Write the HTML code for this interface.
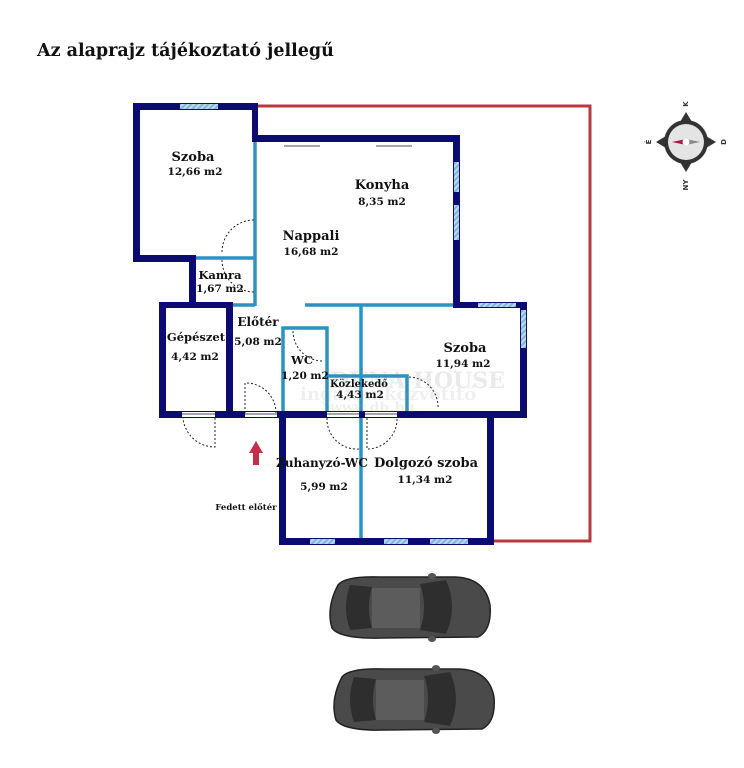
<!DOCTYPE html>
<html><head><meta charset="utf-8"><style>
html,body{margin:0;padding:0;background:#fff;width:744px;height:768px;overflow:hidden}
svg{display:block}
text{font-family:"DejaVu Serif","Liberation Serif",serif;font-weight:bold;fill:#111}
</style></head><body>
<svg width="744" height="768" viewBox="0 0 744 768" xmlns="http://www.w3.org/2000/svg">
<defs>
<pattern id="h" width="4" height="4" patternUnits="userSpaceOnUse" patternTransform="rotate(45)">
<rect width="4" height="4" fill="#bcd8ea"/><rect width="2" height="4" fill="#7fb6d8"/></pattern>
</defs>
<text x="37" y="56" font-size="17.5">Az alaprajz tájékoztató jellegű</text>

<polyline points="258,106 590,106 590,541 494,541" fill="none" stroke="#b83a3f" stroke-width="3"/>

<g stroke="#2a93c4" stroke-width="3.5" fill="none">
<line x1="255" y1="140" x2="255" y2="306"/>
<line x1="196" y1="258" x2="255" y2="258"/>
<line x1="232" y1="305" x2="255" y2="305"/>
<line x1="305" y1="305" x2="455" y2="305"/>
<line x1="361" y1="305" x2="361" y2="542"/>
<polyline points="283,413 283,328 327,328 327,413"/>
<polyline points="325,376 407,376 407,413"/>
</g>

<g fill="#0b0b72">
<rect x="133" y="103" width="125" height="7"/>
<rect x="133" y="103" width="7" height="159"/>
<rect x="252" y="103" width="6" height="39"/>
<rect x="252" y="135" width="208" height="7"/>
<rect x="453" y="135" width="7" height="173"/>
<rect x="453" y="302" width="74" height="6"/>
<rect x="520" y="302" width="7" height="116"/>
<rect x="159" y="411" width="368" height="7"/>
<rect x="159" y="302" width="7" height="116"/>
<rect x="159" y="302" width="74" height="6"/>
<rect x="226" y="302" width="7" height="116"/>
<rect x="133" y="255" width="63" height="7"/>
<rect x="189" y="255" width="7" height="52"/>
<rect x="279" y="411" width="7" height="134"/>
<rect x="487" y="411" width="7" height="134"/>
<rect x="279" y="538" width="215" height="7"/>
</g>
<g fill="url(#h)">
<rect x="180" y="104" width="38" height="5"/>
<rect x="454" y="162" width="5" height="30"/>
<rect x="454" y="205" width="5" height="35"/>
<rect x="478" y="303" width="38" height="4"/>
<rect x="521" y="310" width="5" height="38"/>
<rect x="310" y="539" width="25" height="5"/>
<rect x="384" y="539" width="24" height="5"/>
<rect x="430" y="539" width="38" height="5"/>
</g>
<g fill="#fff">
<rect x="182" y="412" width="33" height="5"/>
<rect x="245" y="412" width="32" height="5"/>
<rect x="327" y="412" width="32" height="5"/>
<rect x="365" y="412" width="32" height="5"/>
</g>
<g stroke="#888" stroke-width="1.5">
<line x1="182" y1="414" x2="215" y2="414"/><line x1="245" y1="414" x2="277" y2="414"/>
<line x1="327" y1="414" x2="359" y2="414"/><line x1="365" y1="414" x2="397" y2="414"/>
<line x1="284" y1="146" x2="320" y2="146"/><line x1="376" y1="146" x2="412" y2="146"/>
</g>
<g fill="none" stroke="#222" stroke-width="1" stroke-dasharray="2,2">
<path d="M222,252 A32,32 0 0 1 254,220"/>
<path d="M222,260 A32,32 0 0 0 254,292"/>
<path d="M215,418 L215,447 A32,32 0 0 1 183,418"/>
<path d="M245,413 L245,383 A30,30 0 0 1 276,413"/>
<path d="M293,331 A30,30 0 0 0 323,361"/>
<path d="M327,418 A30,30 0 0 0 359,449"/>
<path d="M367,418 L367,449 A30,30 0 0 0 397,418"/>
<path d="M409,377 A30,30 0 0 1 438,408"/>
</g>
<path d="M256,441 L249,453 L253,453 L253,465 L259,465 L259,453 L263,453 Z" fill="#c0304a"/>

<g opacity="0.15">
<text x="330" y="388" font-size="22" style="fill:#777">DUNA HOUSE</text>
<text x="300" y="400" font-size="18" style="fill:#999">ingatlanközvetítő</text>
<text x="330" y="412" font-size="14" style="fill:#999">www.dh.hu</text>
</g>

<g text-anchor="middle">
<text x="193" y="161" font-size="13">Szoba</text>
<text x="195" y="175" font-size="10.5">12,66 m2</text>
<text x="382" y="189" font-size="13">Konyha</text>
<text x="382" y="205" font-size="10.5">8,35 m2</text>
<text x="311" y="240" font-size="13">Nappali</text>
<text x="311" y="255" font-size="10.5">16,68 m2</text>
<text x="220" y="279" font-size="11.5">Kamra</text>
<text x="220" y="292" font-size="10.5">1,67 m2</text>
<text x="258" y="326" font-size="12">Előtér</text>
<text x="258" y="345" font-size="10.5">5,08 m2</text>
<text x="196" y="341" font-size="11.5">Gépészet</text>
<text x="195" y="360" font-size="10.5">4,42 m2</text>
<text x="302" y="364" font-size="11.5">WC</text>
<text x="305" y="379" font-size="10.5">1,20 m2</text>
<text x="465" y="352" font-size="13">Szoba</text>
<text x="463" y="367" font-size="10.5">11,94 m2</text>
<text x="359" y="387" font-size="10">Közlekedő</text>
<text x="360" y="398" font-size="10.5">4,43 m2</text>
<text x="322" y="467" font-size="12">Zuhanyzó-WC</text>
<text x="324" y="490" font-size="10.5">5,99 m2</text>
<text x="426" y="467" font-size="13">Dolgozó szoba</text>
<text x="425" y="483" font-size="10.5">11,34 m2</text>
<text x="246" y="510" font-size="8.5">Fedett előtér</text>
</g>

<g transform="translate(686,142)">
<path d="M0,-30 L6,-20 L-6,-20 Z M0,30 L6,20 L-6,20 Z M-30,0 L-20,6 L-20,-6 Z M30,0 L20,6 L20,-6 Z" fill="#333"/>
<circle r="22" fill="#333"/><circle r="18" fill="#e4e4e4"/>
<path d="M-14,0 L0,-3 L0,3 Z" fill="#a8174a"/><path d="M14,0 L0,-3 L0,3 Z" fill="#888"/>
<circle r="3.5" fill="#fff"/>
<text x="0" y="-36" font-size="7" text-anchor="middle" style="font-family:'DejaVu Sans';fill:#333" transform="rotate(-90 0 -38)">K</text>
<text x="-38" y="3" font-size="7" text-anchor="middle" style="font-family:'DejaVu Sans';fill:#333" transform="rotate(-90 -38 0)">É</text>
<text x="37" y="3" font-size="7" text-anchor="middle" style="font-family:'DejaVu Sans';fill:#333" transform="rotate(-90 37 0)">D</text>
<text x="0" y="45" font-size="7" text-anchor="middle" style="font-family:'DejaVu Sans';fill:#333" transform="rotate(-90 0 43)">NY</text>
</g>

<g>
<path d="M338,585 Q345,576 380,577 L455,577 Q485,578 490,605 Q492,630 478,637 L380,638 Q340,639 332,628 Q326,608 338,585 Z" fill="#4a4a4a" stroke="#222" stroke-width="1.5"/>
<path d="M350,585 Q342,607 350,630 L372,628 Q366,607 372,587 Z" fill="#2e2e2e"/>
<path d="M420,584 L446,580 Q458,607 446,634 L420,630 Q428,607 420,584 Z" fill="#2e2e2e"/>
<rect x="372" y="588" width="48" height="40" fill="#5c5c5c"/>
<ellipse cx="432" cy="576" rx="4" ry="3" fill="#555"/><ellipse cx="432" cy="639" rx="4" ry="3" fill="#555"/>
</g>
<g transform="translate(4,92)">
<path d="M338,585 Q345,576 380,577 L455,577 Q485,578 490,605 Q492,630 478,637 L380,638 Q340,639 332,628 Q326,608 338,585 Z" fill="#4a4a4a" stroke="#222" stroke-width="1.5"/>
<path d="M350,585 Q342,607 350,630 L372,628 Q366,607 372,587 Z" fill="#2e2e2e"/>
<path d="M420,584 L446,580 Q458,607 446,634 L420,630 Q428,607 420,584 Z" fill="#2e2e2e"/>
<rect x="372" y="588" width="48" height="40" fill="#5c5c5c"/>
<ellipse cx="432" cy="576" rx="4" ry="3" fill="#555"/><ellipse cx="432" cy="639" rx="4" ry="3" fill="#555"/>
</g>
</svg>
</body></html>
